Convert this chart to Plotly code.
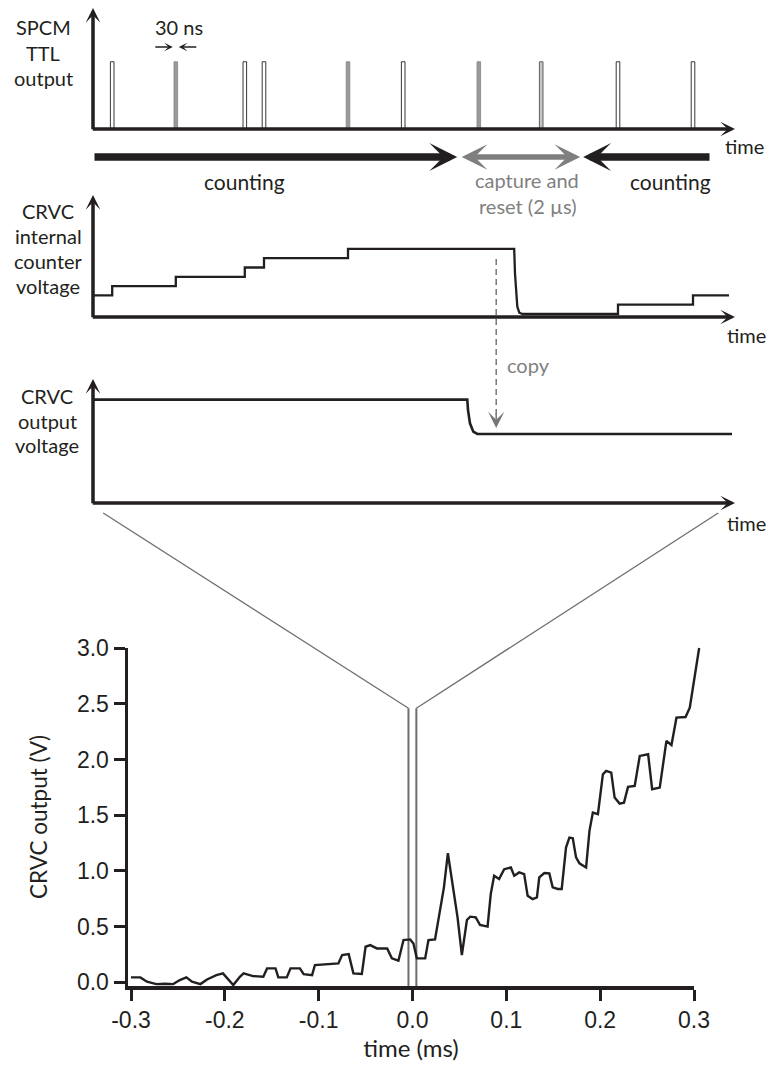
import plotly.graph_objects as go

W, H = 770, 1065
INK = "#231f20"
GRAY = "#808080"

trace_time_ms = [
    -0.300, -0.290, -0.283, -0.273, -0.264, -0.255, -0.248, -0.241, -0.235, -0.226,
    -0.219, -0.209, -0.202, -0.198, -0.191, -0.184, -0.180, -0.170, -0.159, -0.155,
    -0.146, -0.143, -0.134, -0.130, -0.120, -0.116, -0.107, -0.104, -0.093, -0.079,
    -0.075, -0.068, -0.063, -0.054, -0.050, -0.045, -0.038, -0.027, -0.022, -0.015,
    -0.0096, -0.0025, 0.001, 0.0046, 0.0135, 0.017, 0.024, 0.0295, 0.0335, 0.0377,
    0.0437, 0.048, 0.0526, 0.058, 0.0615, 0.0674, 0.072, 0.080, 0.0834, 0.087,
    0.0923, 0.0977, 0.1048, 0.1084, 0.1137, 0.119, 0.1227, 0.128, 0.1326, 0.1351,
    0.1405, 0.1458, 0.1494, 0.1548, 0.159, 0.1636, 0.1672, 0.1708, 0.1743, 0.1779,
    0.185, 0.1886, 0.1922, 0.1976, 0.2029, 0.2064, 0.2118, 0.2154, 0.2207, 0.2254,
    0.2297, 0.2368, 0.2422, 0.2511, 0.2554, 0.2635, 0.2706, 0.276, 0.2813, 0.291,
    0.2955, 0.3002, 0.3055,
]
trace_volt = [
    0.045, 0.045, 0.006, -0.015, -0.012, -0.015, 0.021, 0.045, 0.006, -0.015,
    0.027, 0.066, 0.081, 0.045, -0.024, 0.051, 0.081, 0.057, 0.051, 0.126,
    0.126, 0.045, 0.045, 0.126, 0.126, 0.075, 0.066, 0.156, 0.165, 0.171,
    0.246, 0.254, 0.081, 0.075, 0.320, 0.335, 0.305, 0.305, 0.216, 0.195,
    0.380, 0.386, 0.350, 0.216, 0.216, 0.380, 0.386, 0.680, 0.853, 1.159,
    0.829, 0.584, 0.246, 0.560, 0.590, 0.584, 0.515, 0.501, 0.793, 0.957,
    0.927, 1.016, 1.031, 0.957, 0.987, 0.972, 0.778, 0.748, 0.763, 0.942,
    0.981, 0.978, 0.853, 0.838, 0.838, 1.210, 1.300, 1.294, 1.122, 1.068,
    1.031, 1.360, 1.524, 1.509, 1.867, 1.897, 1.882, 1.658, 1.604, 1.613,
    1.754, 1.763, 2.032, 2.047, 1.733, 1.748, 2.166, 2.130, 2.375, 2.381,
    2.464, 2.733, 3.000,
]
x_tick_vals = [-0.3, -0.2, -0.1, 0.0, 0.1, 0.2, 0.3]
x_tick_text = ["-0.3", "-0.2", "-0.1", "0.0", "0.1", "0.2", "0.3"]
y_tick_vals = [0.0, 0.5, 1.0, 1.5, 2.0, 2.5, 3.0]
y_tick_text = ["0.0", "0.5", "1.0", "1.5", "2.0", "2.5", "3.0"]
zoom_window_ms = [-0.0043, 0.0041]
zoom_window_top_v = 2.46

# ---------------- schematic (time in microseconds) ----------------
pulse_times_us = [0.32, 1.38, 2.53, 2.85, 4.25, 5.17, 6.43, 7.47, 8.75, 10.0]
pulse_fill = ["white", "#9a9a9a", "white", "white", "#9a9a9a",
              "white", "#9a9a9a", "#c4c4c4", "white", "white"]
pulse_edge = [INK, "#8a8a8a", INK, INK, "#8a8a8a", INK, "#8a8a8a", "#555555", INK, INK]
pulse_height = [1.0] * len(pulse_times_us)
pulse_width_us = 0.06

counter_start_count = 2
counter_step_times_us = [0.32, 1.38, 2.53, 2.85, 4.25]
reset_curve_t_us = [7.020, 7.033, 7.050, 7.072, 7.105, 7.162]
reset_curve_level = [7.32, 4.70, 2.55, 1.11, 0.46, 0.32]
counter_after_steps_us = [8.75, 10.0]
counter_offset = 0.32
counter_end_us = 10.6

output_high, output_low = 1.0, 0.668
output_drop_t_us = [6.238, 6.250, 6.283, 6.338, 6.405]
output_drop_v = [1.0, 0.90, 0.771, 0.690, 0.668]
output_end_us = 10.65

capture_start_us, capture_end_us = 6.12, 8.12
count1_end_us, count2_start_us, count2_tail_us = 6.07, 8.17, 10.3
copy_time_us = 6.72
copy_tip_level = 0.726
zoom_source_us = [0.17, 10.42]


def fx(px):
    return px / W


def fy(py):
    return 1 - py / H


# schematic geometry (pixels)
SX0, SX1, S_RANGE = 93, 735, 10.7
A_BOT, A_TOP, A_RANGE = 129, 8, 1.8
B_BOT, B_TOP, B_RANGE = 317, 195, 122 / 9.3
C_BOT, C_TOP, C_RANGE = 503, 379, 1.2
# data plot geometry (pixels)
DX0, DX1, DXR = 128, 694, [-0.3032, 0.3]
DY0, DY1, DYR = 986, 648, [-0.032, 3.0]
px_per_ms = (DX1 - DX0) / (DXR[1] - DXR[0])
px_per_v = (DY0 - DY1) / (DYR[1] - DYR[0])
EX1, EY1 = 701, 641


def s_px(t):
    return SX0 + t * (SX1 - SX0) / S_RANGE


def d_px(t):
    return DX0 + (t - DXR[0]) * px_per_ms


def d_py(v):
    return DY0 - (v - DYR[0]) * px_per_v


# ---- build step paths ----
cx, cy = [0.0], [counter_offset + counter_start_count]
n = counter_start_count
for t in counter_step_times_us:
    cx += [t, t]
    cy += [counter_offset + n, counter_offset + n + 1]
    n += 1
cx += reset_curve_t_us
cy += reset_curve_level
n = 0
for t in counter_after_steps_us:
    cx += [t, t]
    cy += [counter_offset + n, counter_offset + n + 1]
    n += 1
cx.append(counter_end_us)
cy.append(counter_offset + n)

ox = [0.0] + output_drop_t_us + [output_end_us]
oy = [output_high] + output_drop_v + [output_low]

fig = go.Figure()

# pulses
fig.add_trace(go.Bar(
    x=pulse_times_us, y=pulse_height, width=pulse_width_us,
    marker=dict(color=pulse_fill, line=dict(color=pulse_edge, width=0.9)),
    xaxis="x", yaxis="y", showlegend=False, hoverinfo="skip"))
# internal counter
fig.add_trace(go.Scatter(x=cx, y=cy, mode="lines", line=dict(color=INK, width=2.3),
                         xaxis="x2", yaxis="y2", showlegend=False, hoverinfo="skip"))
# output voltage
fig.add_trace(go.Scatter(x=ox, y=oy, mode="lines", line=dict(color=INK, width=2.6),
                         xaxis="x3", yaxis="y3", showlegend=False, hoverinfo="skip"))
# zoom window vertical lines (on the visible data axes)
fig.add_trace(go.Scatter(
    x=[zoom_window_ms[0], zoom_window_ms[0], None, zoom_window_ms[1], zoom_window_ms[1]],
    y=[DYR[0], zoom_window_top_v, None, DYR[0], zoom_window_top_v],
    mode="lines", line=dict(color="#6e6e6e", width=2),
    xaxis="x4", yaxis="y4", showlegend=False, hoverinfo="skip"))
# measured trace (same scale, slightly wider clip area so the last rise is not cut)
fig.add_trace(go.Scatter(x=trace_time_ms, y=trace_volt, mode="lines",
                         line=dict(color=INK, width=2.4),
                         xaxis="x5", yaxis="y5", showlegend=False, hoverinfo="skip"))

hidden = dict(visible=False, fixedrange=True, automargin=False)
sdom = [fx(SX0), fx(SX1)]
layout = dict(
    width=W, height=H, margin=dict(l=0, r=0, t=0, b=0, autoexpand=False), autosize=False,
    paper_bgcolor="white", plot_bgcolor="rgba(0,0,0,0)", showlegend=False,
    font=dict(family="Lato", size=20, color=INK),
    bargap=0,
    xaxis=dict(domain=sdom, range=[0, S_RANGE], anchor="y", **hidden),
    yaxis=dict(domain=[fy(A_BOT), fy(A_TOP)], range=[0, A_RANGE], anchor="x", **hidden),
    xaxis2=dict(domain=sdom, range=[0, S_RANGE], anchor="y2", **hidden),
    yaxis2=dict(domain=[fy(B_BOT), fy(B_TOP)], range=[0, B_RANGE], anchor="x2", **hidden),
    xaxis3=dict(domain=sdom, range=[0, S_RANGE], anchor="y3", **hidden),
    yaxis3=dict(domain=[fy(C_BOT), fy(C_TOP)], range=[0, C_RANGE], anchor="x3", **hidden),
    xaxis4=dict(domain=[fx(DX0), fx(DX1)], range=DXR, anchor="y4", visible=True,
                automargin=False,
                showline=True, linewidth=3.5, linecolor=INK, showgrid=False, zeroline=False,
                ticks="outside", ticklen=11, tickwidth=3, tickcolor=INK,
                tickmode="array", tickvals=x_tick_vals, ticktext=x_tick_text,
                tickfont=dict(family="Liberation Sans", size=23, color=INK),
                title=dict(text="time (ms)", font=dict(family="Lato", size=24, color=INK),
                           standoff=4),
                fixedrange=True),
    yaxis4=dict(domain=[fy(DY0), fy(DY1)], range=DYR, anchor="x4", visible=True,
                automargin=False,
                showline=True, linewidth=3.5, linecolor=INK, showgrid=False, zeroline=False,
                ticks="outside", ticklen=11, tickwidth=3, tickcolor=INK,
                tickmode="array", tickvals=y_tick_vals, ticktext=y_tick_text,
                tickfont=dict(family="Liberation Sans", size=23, color=INK),
                title=dict(text="CRVC output (V)", font=dict(family="Lato", size=22.5, color=INK),
                           standoff=24),
                fixedrange=True),
    xaxis5=dict(domain=[fx(DX0), fx(EX1)], range=[DXR[0], DXR[0] + (EX1 - DX0) / px_per_ms],
                anchor="y5", **hidden),
    yaxis5=dict(domain=[fy(DY0), fy(EY1)], range=[DYR[0], DYR[0] + (DY0 - EY1) / px_per_v],
                anchor="x5", **hidden),
)
fig.update_layout(**layout)

ann = []
shapes = []


def arrow(xr, yr, x, y, ax, ay, width, size, color=INK, head=3, side="end"):
    ann.append(dict(xref=xr, yref=yr, axref=xr, ayref=yr, x=x, y=y, ax=ax, ay=ay,
                    text="", showarrow=True, arrowhead=head, startarrowhead=head,
                    arrowsize=size, startarrowsize=size, arrowwidth=width,
                    arrowcolor=color, arrowside=side, standoff=0, startstandoff=0))


def text(s, px, py, size=20, color=INK, xanchor="center"):
    ann.append(dict(xref="paper", yref="paper", x=fx(px), y=fy(py), text=s,
                    showarrow=False, xanchor=xanchor, yanchor="middle",
                    font=dict(family="Lato", size=size, color=color)))


# axes of the three schematic panels
upx = S_RANGE / (SX1 - SX0)
for xr, yr, rng, bot, top in [("x", "y", A_RANGE, A_BOT, A_TOP),
                               ("x2", "y2", B_RANGE, B_BOT, B_TOP),
                               ("x3", "y3", C_RANGE, C_BOT, C_TOP)]:
    upp = rng / (bot - top)  # units per pixel
    arrow(xr, yr, S_RANGE, 0, -1.75 * upx, 0, 3.5, 0.7)
    arrow(xr, yr, 0, rng, 0, -1.75 * upp, 3.5, 0.7)

# 30 ns markers around the second pulse
p = pulse_times_us[1]
arrow("x", "y", p - 3 * upx, 1.22, p - 22 * upx, 1.22, 1.5, 0.95)
arrow("x", "y", p + 3 * upx, 1.22, p + 22 * upx, 1.22, 1.5, 0.95)
ann.append(dict(xref="x", yref="y", x=p + 3 * upx, y=1.52, text="30 ns", showarrow=False,
                xanchor="center", yanchor="middle", font=dict(family="Lato", size=20, color=INK)))

# counting / capture arrows (row below panel A)
row_y = fy(157)
for x_tip, x_tail, w, s, c, side in [
        (count1_end_us, 0.0, 7.5, 0.62, INK, "end"),
        (count2_start_us, count2_tail_us, 7.5, 0.62, INK, "end"),
        (capture_end_us, capture_start_us, 5.5, 0.78, "#7f7f7f", "end+start")]:
    ann.append(dict(xref="x", yref="paper", axref="x", ayref="pixel", x=x_tip, y=row_y,
                    ax=x_tail, ay=0, text="", showarrow=True, arrowhead=3,
                    startarrowhead=3, arrowsize=s, startarrowsize=s, arrowwidth=w,
                    arrowcolor=c, arrowside=side, standoff=0, startstandoff=0))

# copy arrow (dashed)
shapes.append(dict(type="line", xref="paper", yref="paper",
                   x0=fx(s_px(copy_time_us)), x1=fx(s_px(copy_time_us)),
                   y0=fy(259), y1=fy(418), line=dict(color="#777777", width=1.5, dash="6px,4px")))
ann.append(dict(xref="x3", yref="y3", axref="pixel", ayref="pixel",
                x=copy_time_us, y=copy_tip_level, ax=0, ay=-16,
                text="", showarrow=True, arrowhead=3, arrowsize=1.8, arrowwidth=1.5,
                arrowcolor="#777777", standoff=0))

# zoom lines from panel C to the data window
for src, win in zip(zoom_source_us, zoom_window_ms):
    shapes.append(dict(type="line", xref="paper", yref="paper",
                       x0=fx(s_px(src)), y0=fy(C_BOT + 10),
                       x1=fx(d_px(win)), y1=fy(d_py(zoom_window_top_v)),
                       line=dict(color="#6e6e6e", width=1.3)))

# labels
for s, py in [("SPCM", 26.5), ("TTL", 53), ("output", 78)]:
    text(s, 43, py)
for s, py in [("CRVC", 210.5), ("internal", 236), ("counter", 261.5), ("voltage", 286)]:
    text(s, 48, py)
for s, py in [("CRVC", 395.5), ("output", 420.5), ("voltage", 445)]:
    text(s, 47, py)
text("time", 744, 146)
text("time", 746, 335)
text("time", 746, 523)
text("counting", 244.5, 181, size=21)
text("counting", 670, 181, size=21)
text("capture and", 527, 180, color=GRAY)
text("reset (2 µs)", 527, 206, color=GRAY)
text("copy", 505, 365, color=GRAY, xanchor="left")

fig.update_layout(annotations=ann, shapes=shapes)

fig.write_html("out.html", include_plotlyjs=True, full_html=True,
               config={"staticPlot": True},
               post_script="document.body.style.margin='0';document.body.style.overflow='hidden';")
